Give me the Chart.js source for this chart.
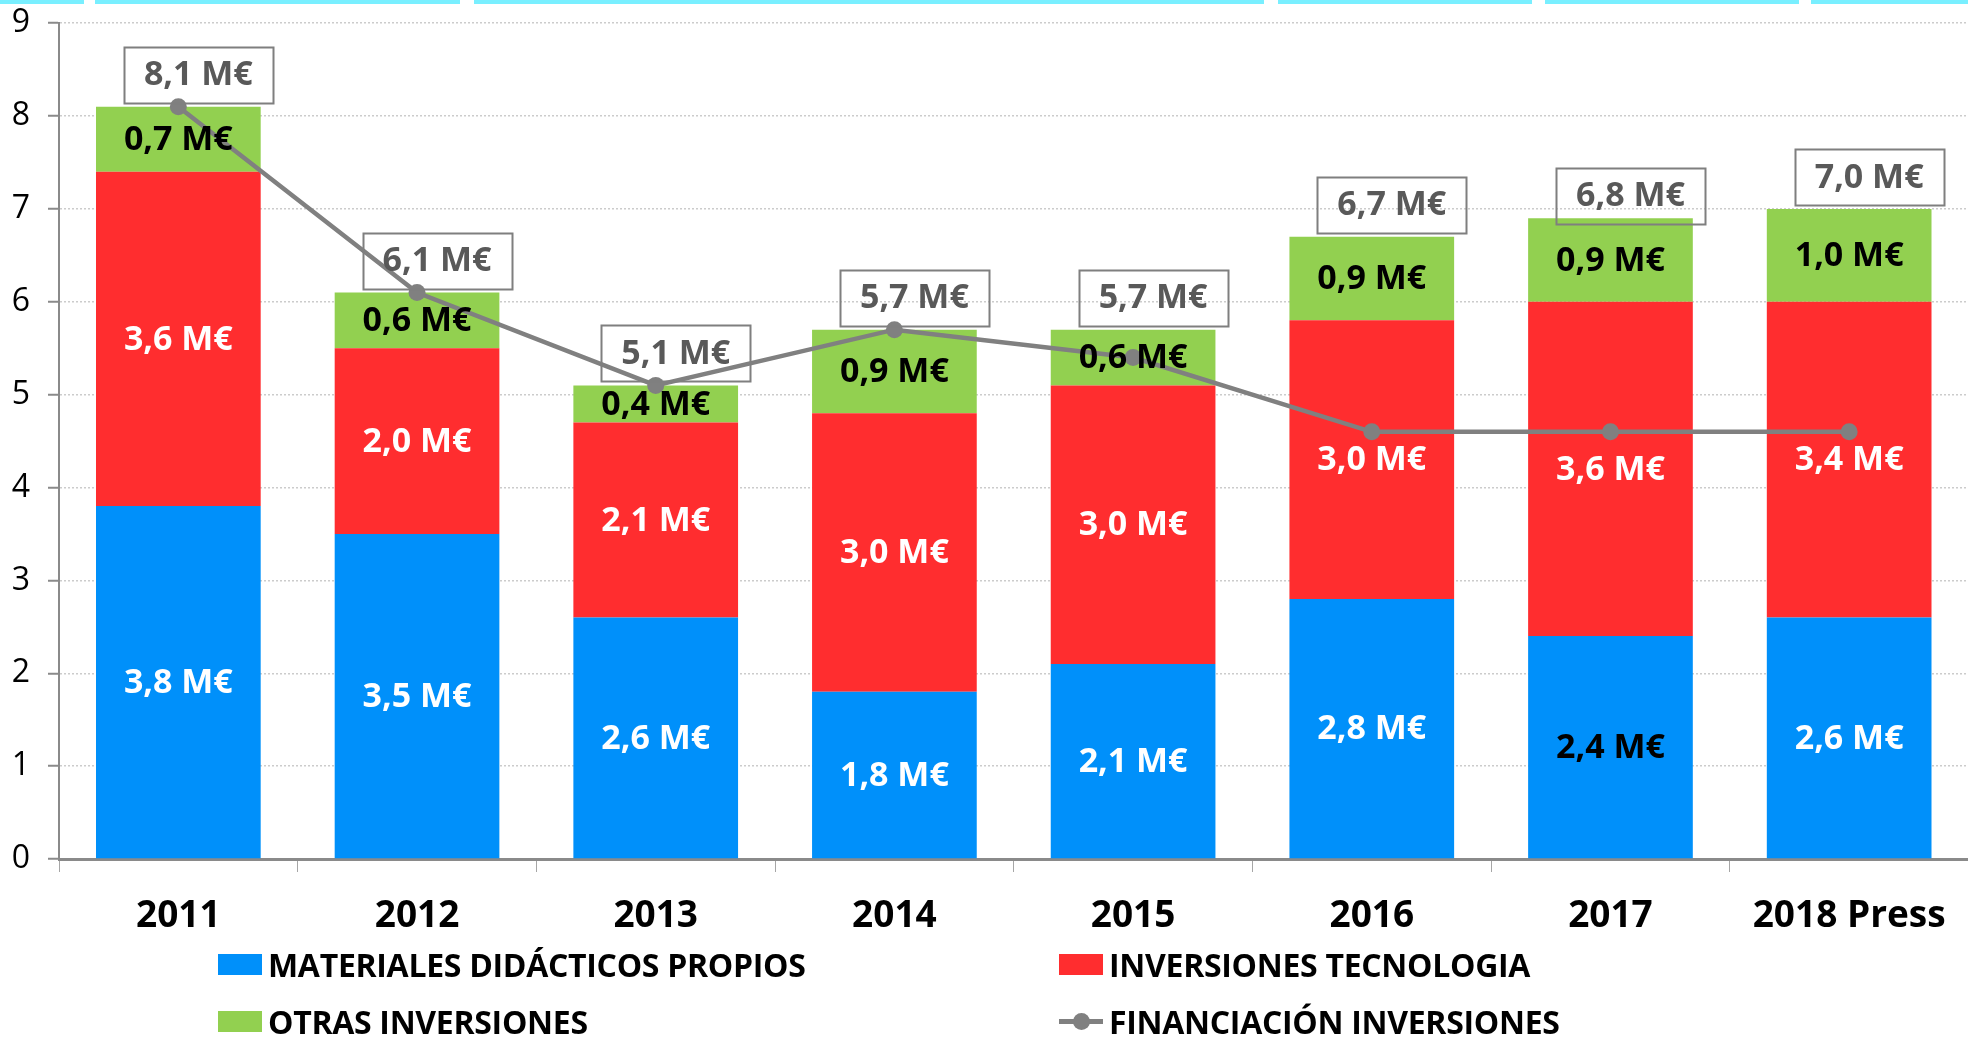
<!DOCTYPE html>
<html>
<head>
<meta charset="utf-8">
<script src="https://cdn.jsdelivr.net/npm/chart.js@4.4.1/dist/chart.umd.min.js"></script>
<style>
html,body{margin:0;padding:0;background:#fff;overflow:hidden;width:1968px;height:1037px;}
#wrap{position:absolute;left:0;top:-14px;width:1977px;height:1051px;}
.cy{position:absolute;top:0;height:4px;background:#79EFFF;z-index:5;}
.lg{position:absolute;height:40px;display:flex;align-items:center;font:bold 32px "Open Sans",sans-serif;color:#000;white-space:nowrap;letter-spacing:-0.3px;}
.sw{width:44px;height:21px;margin-right:6px;position:relative;}
.ln{width:44px;height:21px;margin-right:6px;position:relative;}
.ln:before{content:"";position:absolute;left:0;right:0;top:8px;height:5px;background:#808080;}
.ln:after{content:"";position:absolute;left:14px;top:2px;width:17px;height:17px;border-radius:50%;background:#808080;}
</style>
</head>
<body>
<div id="wrap"><canvas id="c" width="1977" height="1051"></canvas></div>
<div class="cy" style="left:0;width:84px"></div>
<div class="cy" style="left:95px;width:365px"></div>
<div class="cy" style="left:474px;width:790px"></div>
<div class="cy" style="left:1278px;width:254px"></div>
<div class="cy" style="left:1545px;width:254px"></div>
<div class="cy" style="left:1811px;width:157px"></div>
<div id="legend"></div>
<script>
const categories = ['2011','2012','2013','2014','2015','2016','2017','2018 Press'];
const materiales = [3.8, 3.5, 2.6, 1.8, 2.1, 2.8, 2.4, 2.6];
const tecnologia = [3.6, 2.0, 2.1, 3.0, 3.0, 3.0, 3.6, 3.4];
const otras = [0.7, 0.6, 0.4, 0.9, 0.6, 0.9, 0.9, 1.0];
const financiacion = [8.1, 6.1, 5.1, 5.7, 5.4, 4.6, 4.6, 4.6];
const totalLabels = [8.1, 6.1, 5.1, 5.7, 5.7, 6.7, 6.8, 7.0];
const yTickValues = [0,1,2,3,4,5,6,7,8,9];
const seriesNames = ['MATERIALES DIDÁCTICOS PROPIOS','INVERSIONES TECNOLOGIA','OTRAS INVERSIONES','FINANCIACIÓN INVERSIONES'];

const COLORS = {blue:'#0090FA', red:'#FF2D2F', green:'#92D050', gray:'#808080'};
const fmt = v => v.toFixed(1).replace('.', ',') + ' M€';

const labelPlugin = {
  id: 'segLabels',
  afterDatasetsDraw(chart) {
    const ctx = chart.ctx, xs = chart.scales.x, ys = chart.scales.y;
    ctx.save();
    ctx.textAlign = 'center';
    ctx.textBaseline = 'middle';
    ctx.font = 'bold 34px "Open Sans"';
    [1,2,3].forEach(di => {
      const meta = chart.getDatasetMeta(di);
      const vals = chart.data.datasets[di].data;
      meta.data.forEach((bar, i) => {
        let col = '#fff';
        if (di === 3) col = '#000';
        if (di === 1 && i === 6) col = '#000';
        ctx.fillStyle = col;
        ctx.fillText(fmt(vals[i]), bar.x, (bar.y + bar.base) / 2 + 1);
      });
    });
    ctx.fillStyle = '#595959';
    ctx.strokeStyle = '#7f7f7f';
    ctx.lineWidth = 2;
    totalLabels.forEach((t, i) => {
      const cx = xs.getPixelForValue(i) + 20;
      const cy = ys.getPixelForValue(t) - 32;
      const txt = fmt(t);
      const w = ctx.measureText(txt).width + 40, h = 56;
      ctx.strokeRect(Math.round(cx - w/2) + 0.5, Math.round(cy - h/2) + 0.5, Math.round(w), h);
      ctx.fillText(txt, cx, cy + 1);
    });
    ctx.restore();
  }
};

new Chart(document.getElementById('c'), {
  type: 'bar',
  data: {
    labels: categories,
    datasets: [
      {type:'line', label:seriesNames[3], data:financiacion, borderColor:COLORS.gray, backgroundColor:COLORS.gray,
       borderWidth:4.5, pointRadius:8.5, pointBackgroundColor:COLORS.gray, pointBorderWidth:0, tension:0, order:0},
      {label:seriesNames[0], data:materiales, backgroundColor:COLORS.blue, stack:'s', order:1},
      {label:seriesNames[1], data:tecnologia, backgroundColor:COLORS.red, stack:'s', order:1},
      {label:seriesNames[2], data:otras, backgroundColor:COLORS.green, stack:'s', order:1}
    ]
  },
  options: {
    responsive:false, animation:false, devicePixelRatio:1,
    layout:{padding:{top:3, left:0, right:0, bottom:0}},
    plugins:{legend:{display:false}, tooltip:{enabled:false}},
    datasets:{bar:{categoryPercentage:1, barPercentage:0.69}},
    scales:{
      x:{stacked:true,
         grid:{display:true, drawOnChartArea:false, drawTicks:true, tickLength:13, color:'#a6a6a6', lineWidth:1, offset:true},
         border:{display:true, color:'#8a8a8a', width:3},
         ticks:{color:'#000', font:{family:'Open Sans', weight:'bold', size:37}, padding:22, maxRotation:0, autoSkip:false},
         afterFit(s){ s.height = 1051 - 873; }
      },
      y:{stacked:true, min:0, max:9,
         afterBuildTicks(s){ s.ticks = yTickValues.map(v => ({value:v})); },
         ticks:{color:'#000', font:{family:'Open Sans', size:32}, padding:18},
         grid:{color:'#cccccc', lineWidth:1.5, tickLength:11, tickColor:'#8a8a8a', tickWidth:2, drawTicks:true},
         border:{display:true, color:'#8a8a8a', width:2, dash:[2,2]},
         afterFit(s){ s.width = 59; }
      }
    }
  },
  plugins:[labelPlugin]
});

const legendItems = [
  {name:seriesNames[0], color:COLORS.blue, left:218, top:944},
  {name:seriesNames[1], color:COLORS.red, left:1059, top:944},
  {name:seriesNames[2], color:COLORS.green, left:218, top:1001},
  {name:seriesNames[3], line:true, left:1059, top:1001}
];
const lg = document.getElementById('legend');
legendItems.forEach(it => {
  const d = document.createElement('div');
  d.className = 'lg';
  d.style.left = it.left + 'px';
  d.style.top = it.top + 'px';
  const s = document.createElement('span');
  if (it.line) { s.className = 'ln'; } else { s.className = 'sw'; s.style.background = it.color; }
  d.appendChild(s);
  d.appendChild(document.createTextNode(it.name));
  lg.appendChild(d);
});
</script>
</body>
</html>
